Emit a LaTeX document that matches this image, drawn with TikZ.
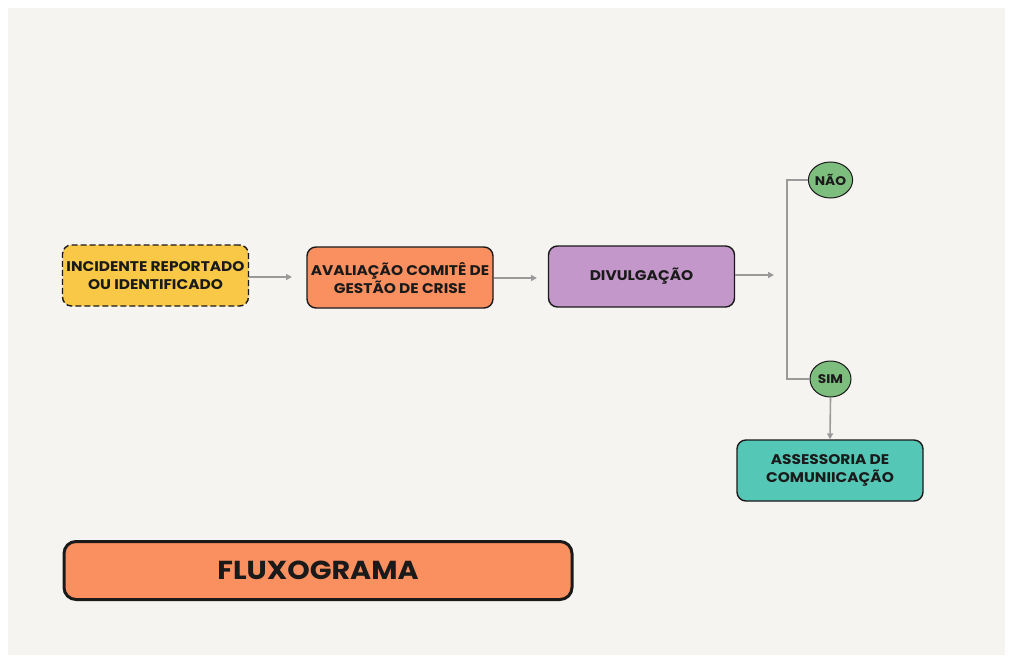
\documentclass[tikz,border=0pt]{standalone}
\usepackage{fontspec}
\setmainfont{Poppins}[FakeStretch=1.1]
\usetikzlibrary{arrows.meta,shapes.geometric}
\definecolor{bgc}{HTML}{F5F4F0}
\definecolor{yel}{HTML}{F9C846}
\definecolor{ora}{HTML}{FA8F5F}
\definecolor{pur}{HTML}{C397C9}
\definecolor{grn}{HTML}{7DBE7E}
\definecolor{tea}{HTML}{55C7B7}
\definecolor{lin}{HTML}{9A9A9A}
\definecolor{ink}{HTML}{1A1A1A}
\tikzset{
  box/.style={draw=ink, line width=1.4pt, rounded corners=9pt, minimum width=186pt, minimum height=61pt, align=center, font=\fontsize{14}{18}\selectfont\bfseries, text=ink, inner sep=1pt},
  circ/.style={draw=ink, line width=1pt, ellipse, minimum width=41pt, minimum height=36pt, inner sep=0pt, fill=grn, font=\fontsize{12.5}{14}\selectfont\bfseries, text=ink},
  conn/.style={draw=lin, line width=1.6pt},
  arr/.style={conn, -{Triangle[length=6pt,width=6pt]}}
}
\begin{document}
\begin{tikzpicture}[x=1pt,y=-1pt]
\fill[white] (0,0) rectangle (1013,661);
\fill[bgc] (8,8) rectangle (1005,655);
\useasboundingbox (0,0) rectangle (1013,661);

\node[box, fill=yel, dashed, dash pattern=on 6pt off 3pt] (inc) at (155.5,275.5) {INCIDENTE REPORTADO\\OU IDENTIFICADO};
\node[box, fill=ora] (ava) at (400,277.5) {AVALIAÇÃO COMITÊ DE\\GESTÃO DE CRISE};
\node[box, fill=pur] (div) at (641.5,276.5) {DIVULGAÇÃO};
\node[circ] (nao) at (830.5,180) {NÃO};
\node[circ] (sim) at (830.5,379) {SIM};
\node[box, fill=tea] (ass) at (830,470.5) {ASSESSORIA DE\\COMUNIICAÇÃO};
\node[draw=ink, line width=3pt, rounded corners=12pt, fill=ora, minimum width=508pt, minimum height=58pt, font=\fontsize{26}{30}\selectfont\bfseries, text=ink] (flu) at (318,570.5) {FLUXOGRAMA};

\coordinate (a1) at (292,277);
\coordinate (a2) at (537,278);
\coordinate (a3) at (774,275);
\coordinate (bt) at (787,180);
\coordinate (bb) at (787,379);

\draw[arr] (inc.east |- a1) -- (a1);
\draw[arr] (ava.east |- a2) -- (a2);
\draw[arr] (div.east |- a3) -- (a3);
\draw[conn] (nao.west) -- (bt) -- (bb) -- (sim.west);
\draw[arr] (sim.south) -- (ass.north);
\end{tikzpicture}
\end{document}
